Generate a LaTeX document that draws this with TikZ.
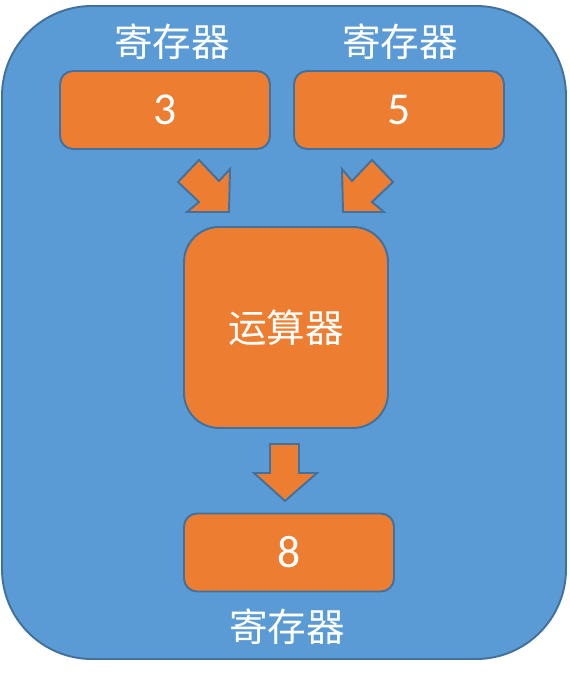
\documentclass[tikz,border=0pt]{standalone}
\usepackage{fontspec}
\setmainfont{Carlito}
\newfontfamily\cjk{Noto Sans CJK SC}
\usepackage{xcolor}
\usepackage{tikz}
\usetikzlibrary{positioning}

\definecolor{panelblue}{HTML}{5B9BD5}
\definecolor{edgeblue}{HTML}{41719C}
\definecolor{boxorange}{HTML}{ED7D31}

\begin{document}
\begin{tikzpicture}[x=0.02cm,y=-0.02cm,
    regbox/.style={draw=edgeblue,fill=boxorange,line width=1.1pt,rounded corners=0.26cm,
        minimum width=4.2cm,minimum height=1.56cm,text=white,font=\fontsize{26}{30}\selectfont},
    alubox/.style={draw=edgeblue,fill=boxorange,line width=1.1pt,rounded corners=0.7cm,
        minimum width=4.08cm,minimum height=4.02cm,text=white,font=\cjk\fontsize{22}{26}\selectfont},
    reglabel/.style={text=white,font=\cjk\fontsize{22}{26}\selectfont},
    blockarrow/.style={draw=edgeblue,fill=boxorange,line width=1.1pt,line join=miter}]
    \useasboundingbox (0,0) rectangle (569,675);

    % Outer panel
    \draw[draw=edgeblue,fill=panelblue,line width=1.1pt,rounded corners=1.8cm] (2,6) rectangle (566,659);

    % Input registers
    \node[regbox] (regA) at (165,110) {3};
    \node[regbox] (regB) at (399,110) {5};
    \node[reglabel] (labA) at (172,42) {寄存器};
    \node[reglabel] (labB) at (400,42) {寄存器};

    % Arithmetic unit
    \node[alubox] (alu) at (286,327.5) {运算器};

    % Output register
    \node[regbox] (regC) at (289,552.5) {8};
    \node[reglabel] (labC) at (287,627) {寄存器};

    % Block arrows
    \draw[blockarrow] (199,160) -- (219,181) -- (230,169) -- (229,212) -- (187,212) -- (199,202) -- (178,182) -- cycle;
    \draw[blockarrow] (372,160) -- (352,181) -- (342,169) -- (343,212) -- (384,212) -- (372,202) -- (393,182) -- cycle;
    \draw[blockarrow] (270,444) -- (299,444) -- (299,473) -- (317,473) -- (285,501) -- (254,473) -- (270,473) -- cycle;
\end{tikzpicture}
\end{document}
